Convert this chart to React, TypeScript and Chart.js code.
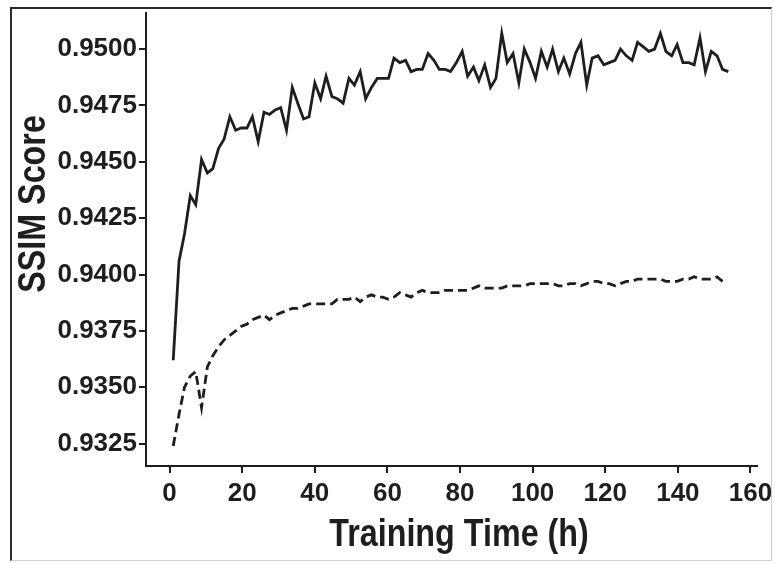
import React, { useEffect, useRef } from "react";
import { Chart, registerables } from "chart.js";

Chart.register(...registerables);

// Training time (h) for each evaluation
const TIMES = [
  1.0, 2.6, 4.1, 5.7, 7.2, 8.8, 10.4, 11.9, 13.5, 15.0,
  16.6, 18.2, 19.7, 21.3, 22.8, 24.4, 26.0, 27.5, 29.1, 30.6,
  32.2, 33.8, 35.3, 36.9, 38.4, 40.0, 41.6, 43.1, 44.7, 46.2,
  47.8, 49.4, 50.9, 52.5, 54.0, 55.6, 57.2, 58.7, 60.3, 61.8,
  63.4, 65.0, 66.5, 68.1, 69.6, 71.2, 72.8, 74.3, 75.9, 77.4,
  79.0, 80.6, 82.1, 83.7, 85.2, 86.8, 88.4, 89.9, 91.5, 93.0,
  94.6, 96.2, 97.7, 99.3, 100.8, 102.4, 104.0, 105.5, 107.1, 108.6,
  110.2, 111.8, 113.3, 114.9, 116.4, 118.0, 119.6, 121.1, 122.7, 124.2,
  125.8, 127.4, 128.9, 130.5, 132.0, 133.6, 135.2, 136.7, 138.3, 139.8,
  141.4, 143.0, 144.5, 146.1, 147.6, 149.2, 150.8, 152.3, 153.9,
];

// Solid line SSIM values
const SOLID = [
  0.9362, 0.9406, 0.9418, 0.9435, 0.9431, 0.9451, 0.9445, 0.9447, 0.9456, 0.9460,
  0.9470, 0.9464, 0.9465, 0.9465, 0.9470, 0.9459, 0.9472, 0.9471, 0.9473, 0.9474,
  0.9464, 0.9483, 0.9476, 0.9469, 0.9470, 0.9485, 0.9478, 0.9488, 0.9479, 0.9478,
  0.9476, 0.9487, 0.9484, 0.9490, 0.9478, 0.9483, 0.9487, 0.9487, 0.9487, 0.9496,
  0.9494, 0.9495, 0.9490, 0.9491, 0.9491, 0.9498, 0.9495, 0.9491, 0.9491, 0.9490,
  0.9494, 0.9499, 0.9488, 0.9492, 0.9486, 0.9493, 0.9483, 0.9487, 0.9507, 0.9494,
  0.9498, 0.9485, 0.9500, 0.9494, 0.9487, 0.9499, 0.9492, 0.9500, 0.9490, 0.9496,
  0.9489, 0.9498, 0.9503, 0.9484, 0.9496, 0.9497, 0.9493, 0.9494, 0.9495, 0.9500,
  0.9497, 0.9495, 0.9503, 0.9501, 0.9499, 0.9500, 0.9507, 0.9499, 0.9497, 0.9502,
  0.9494, 0.9494, 0.9493, 0.9505, 0.9490, 0.9499, 0.9497, 0.9491, 0.9490,
];

// Dashed line SSIM values
const DASHED = [
  0.9324, 0.9338, 0.9350, 0.9355, 0.9357, 0.9341, 0.9359, 0.9364, 0.9368, 0.9371,
  0.9373, 0.9375, 0.9377, 0.9378, 0.9380, 0.9381, 0.9382, 0.9380, 0.9382, 0.9383,
  0.9384, 0.9385, 0.9385, 0.9386, 0.9387, 0.9387, 0.9387, 0.9387, 0.9387, 0.9389,
  0.9389, 0.9389, 0.9390, 0.9388, 0.9390, 0.9391, 0.9390, 0.9390, 0.9389, 0.9390,
  0.9392, 0.9391, 0.9390, 0.9392, 0.9393, 0.9392, 0.9392, 0.9392, 0.9393, 0.9393,
  0.9393, 0.9393, 0.9393, 0.9394, 0.9395, 0.9394, 0.9394, 0.9394, 0.9394, 0.9395,
  0.9395, 0.9395, 0.9395, 0.9396, 0.9396, 0.9396, 0.9396, 0.9396, 0.9395, 0.9395,
  0.9396, 0.9396, 0.9395, 0.9396, 0.9397, 0.9397, 0.9396, 0.9396, 0.9395, 0.9396,
  0.9397, 0.9397, 0.9398, 0.9398, 0.9398, 0.9398, 0.9398, 0.9397, 0.9397, 0.9397,
  0.9398, 0.9398, 0.9399, 0.9398, 0.9398, 0.9398, 0.9399, 0.9397,
];

const X_TICKS = [0, 20, 40, 60, 80, 100, 120, 140, 160];
const Y_TICKS = [0.9325, 0.935, 0.9375, 0.94, 0.9425, 0.945, 0.9475, 0.95];
const X_TITLE = "Training Time (h)";
const Y_TITLE = "SSIM Score";

const FONT = '"Liberation Sans", Arial, Helvetica, sans-serif';
const INK = "#1e1e1e";

const titlePlugin = {
  id: "customTitles",
  afterDraw(chart: any) {
    const ctx = chart.ctx;
    ctx.save();
    ctx.fillStyle = INK;
    ctx.font = `bold 38px ${FONT}`;
    ctx.textAlign = "center";
    ctx.textBaseline = "alphabetic";
    ctx.translate(459, 546);
    ctx.scale(0.85, 1);
    ctx.fillText(X_TITLE, 0, 0);
    ctx.restore();

    ctx.save();
    ctx.fillStyle = INK;
    ctx.font = `bold 38px ${FONT}`;
    ctx.textAlign = "center";
    ctx.textBaseline = "alphabetic";
    ctx.translate(45, 204);
    ctx.rotate(-Math.PI / 2);
    ctx.scale(0.85, 1);
    ctx.fillText(Y_TITLE, 0, 0);
    ctx.restore();
  },
};

export default function App() {
  const canvasRef = useRef<HTMLCanvasElement | null>(null);

  useEffect(() => {
    if (!canvasRef.current) return;
    const solidData = TIMES.map((t, i) => ({ x: t, y: SOLID[i] }));
    const dashedData = DASHED.map((v, i) => ({ x: TIMES[i], y: v }));

    const tickFont = { family: FONT, weight: "bold" as const, size: 26 };
    const gridCfg = {
      drawOnChartArea: false,
      drawTicks: true,
      tickLength: 7,
      tickWidth: 2,
      tickColor: INK,
      color: INK,
      lineWidth: 2,
    };

    const chart = new Chart(canvasRef.current, {
      type: "line",
      data: {
        datasets: [
          {
            data: solidData,
            borderColor: INK,
            borderWidth: 2.8,
            pointRadius: 0,
            tension: 0,
            fill: false,
          },
          {
            data: dashedData,
            borderColor: INK,
            borderWidth: 2.8,
            borderDash: [9, 5],
            pointRadius: 0,
            tension: 0,
            fill: false,
          },
        ],
      },
      options: {
        animation: false,
        responsive: true,
        maintainAspectRatio: false,
        devicePixelRatio: 1,
        layout: { padding: { top: 13, right: 19, bottom: 0, left: 0 } },
        plugins: { legend: { display: false }, tooltip: { enabled: false } },
        scales: {
          x: {
            type: "linear",
            min: -6.5,
            max: 161.8,
            border: { display: true, color: INK, width: 2 },
            grid: gridCfg,
            ticks: {
              font: tickFont,
              color: INK,
              padding: 5,
              maxRotation: 0,
              autoSkip: false,
              callback: (v: any) => String(v),
            },
            afterBuildTicks: (scale: any) => {
              scale.ticks = X_TICKS.map((v) => ({ value: v }));
            },
            afterFit: (scale: any) => {
              scale.height = 98;
              scale.paddingLeft = 0;
              scale.paddingRight = 0;
            },
          },
          y: {
            type: "linear",
            min: 0.93151,
            max: 0.9516,
            border: { display: true, color: INK, width: 2 },
            grid: gridCfg,
            ticks: {
              font: tickFont,
              color: INK,
              padding: 2,
              autoSkip: false,
              callback: (v: any) => Number(v).toFixed(4),
            },
            afterBuildTicks: (scale: any) => {
              scale.ticks = Y_TICKS.map((v) => ({ value: v }));
            },
            afterFit: (scale: any) => {
              scale.width = 146;
              scale.paddingTop = 0;
              scale.paddingBottom = 0;
            },
          },
        },
      },
      plugins: [titlePlugin],
    });

    return () => chart.destroy();
  }, []);

  return (
    <div
      style={{
        position: "fixed",
        left: 0,
        top: 0,
        width: 776,
        height: 564,
        background: "#fff",
      }}
    >
      <canvas ref={canvasRef} style={{ width: "100%", height: "100%" }} />
      <div
        style={{
          position: "absolute",
          left: 10,
          top: 7,
          width: 762,
          height: 554,
          boxSizing: "border-box",
          borderTop: "2px solid #2a2a2a",
          borderLeft: "2px solid #2a2a2a",
          borderRight: "1px solid #cfcfcf",
          borderBottom: "1px solid #cfcfcf",
          pointerEvents: "none",
        }}
      />
    </div>
  );
}
